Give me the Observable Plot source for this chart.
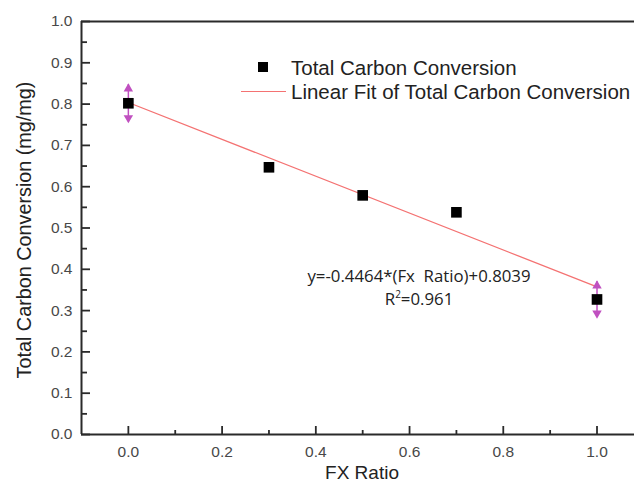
<!DOCTYPE html>
<html>
<head>
<meta charset="utf-8">
<script src="https://cdn.jsdelivr.net/npm/d3@7"></script>
<script src="https://cdn.jsdelivr.net/npm/@observablehq/plot@0.6"></script>
<style>
  html, body { margin: 0; padding: 0; background: #fff; }
  #wrap { position: relative; width: 634px; height: 487px; overflow: hidden; font-family: "Liberation Sans", Arial, sans-serif; }
  #wrap svg { display: block; }
  .lg { position: absolute; font-size: 20.5px; color: #222; white-space: nowrap; line-height: 1; transform: translateY(-50%); }
  .eq { position: absolute; font-family: "Open Sans", "DejaVu Sans", sans-serif; font-size: 16.8px; color: #222; white-space: nowrap; transform: translate(-50%, -50%); line-height: 1; }
</style>
</head>
<body>
<div id="wrap"></div>
<script>
// Data
const fxRatio = [0.0, 0.3, 0.5, 0.7, 1.0];
const carbonConv = [0.802, 0.647, 0.579, 0.538, 0.327];
const errX = [0.0, 1.0];
const errY = [0.802, 0.327];
const errVal = [0.045, 0.043];
const slope = -0.4464;
const intercept = 0.8039;
const fitX = [0.0, 1.0];
const xTicks = [0.0, 0.2, 0.4, 0.6, 0.8, 1.0];
const xMinor = [0.1, 0.3, 0.5, 0.7, 0.9];
const yTicks = [0.0, 0.1, 0.2, 0.3, 0.4, 0.5, 0.6, 0.7, 0.8, 0.9, 1.0];
const yMinor = [0.05, 0.15, 0.25, 0.35, 0.45, 0.55, 0.65, 0.75, 0.85, 0.95];
const xTitle = "FX Ratio";
const yTitle = "Total Carbon Conversion (mg/mg)";
const legendItems = ["Total Carbon Conversion", "Linear Fit of Total Carbon Conversion"];
const r2 = "0.961";

const points = fxRatio.map((x, i) => ({x, y: carbonConv[i]}));
const fit = fitX.map(x => ({x, y: slope * x + intercept}));
const errs = errX.map((x, i) => ({x, y: errY[i], lo: errY[i] - errVal[i], hi: errY[i] + errVal[i]}));

const axisColor = "#2a2a2a";
const labelColor = "#484848";
const fitColor = "#f47272";
const errColor = "#c050c0";

const chart = Plot.plot({
  width: 634,
  height: 487,
  marginLeft: 81,
  marginRight: 0,
  marginTop: 21,
  marginBottom: 53,
  style: {fontFamily: "'Liberation Sans', Arial, sans-serif", background: "#fff"},
  x: {domain: [-0.1, 1.08], label: null},
  y: {domain: [0, 1.0], label: null},
  marks: [
    // fit line
    Plot.line(fit, {x: "x", y: "y", stroke: fitColor, strokeWidth: 1.3}),
    // error bars
    Plot.ruleX(errs, {x: "x", y1: "lo", y2: "hi", stroke: errColor, strokeWidth: 1.5}),
    Plot.dot(errs, {x: "x", y: "hi", symbol: "triangle", r: 3.5, fill: errColor, stroke: null, dy: 4}),
    Plot.dot(errs, {x: "x", y: "lo", symbol: "triangle", r: 3.5, fill: errColor, stroke: null, rotate: 180, dy: -4}),
    // points
    Plot.dot(points, {x: "x", y: "y", symbol: "square", r: 6, fill: "#000", stroke: null}),
    // frame lines
    Plot.ruleX([-0.1], {stroke: axisColor, strokeWidth: 2}),
    Plot.ruleY([0], {stroke: axisColor, strokeWidth: 2}),
    Plot.ruleY([1.0], {stroke: axisColor, strokeWidth: 2}),
    // inward ticks (shifted inside the frame)
    Plot.axisY(yTicks, {anchor: "left", tickSize: 9, dx: 9, tickFormat: () => "", stroke: axisColor, strokeWidth: 1.8, label: null}),
    Plot.axisY(yMinor, {anchor: "left", tickSize: 6, dx: 6, tickFormat: () => "", stroke: axisColor, strokeWidth: 1.8, label: null}),
    Plot.axisX(xTicks, {anchor: "bottom", tickSize: 8, dy: -8, tickFormat: () => "", stroke: axisColor, strokeWidth: 1.8, label: null}),
    Plot.axisX(xMinor, {anchor: "bottom", tickSize: 4, dy: -4, tickFormat: () => "", stroke: axisColor, strokeWidth: 1.8, label: null}),
    // tick labels
    Plot.axisY(yTicks, {anchor: "left", tickSize: 0, tickPadding: 9, tickFormat: d3.format(".1f"), fontSize: 15.5, fill: labelColor, label: null}),
    Plot.axisX(xTicks, {anchor: "bottom", tickSize: 0, tickPadding: 11, tickFormat: d3.format(".1f"), fontSize: 15.5, fill: labelColor, label: null}),
    // axis titles
    Plot.text([xTitle], {frameAnchor: "bottom", dy: 44, dx: 4, text: d => d, fontSize: 19, fill: "#222", textAnchor: "middle"}),
    Plot.text([yTitle], {frameAnchor: "left", dx: -57, dy: 2, rotate: -90, text: d => d, fontSize: 19.8, fill: "#222", textAnchor: "middle"})
  ]
});

const wrap = document.getElementById("wrap");
wrap.appendChild(chart);

function addDiv(cls, html, left, top) {
  const d = document.createElement("div");
  d.className = cls;
  d.innerHTML = html;
  d.style.left = left + "px";
  d.style.top = top + "px";
  wrap.appendChild(d);
  return d;
}
// Legend (HTML overlay)
const sq = document.createElement("div");
Object.assign(sq.style, {position: "absolute", left: "258px", top: "62px", width: "10px", height: "10px", background: "#000"});
wrap.appendChild(sq);
const ln = document.createElement("div");
Object.assign(ln.style, {position: "absolute", left: "241px", top: "91px", width: "45px", height: "1.3px", background: fitColor});
wrap.appendChild(ln);
addDiv("lg", legendItems[0], 291, 68);
addDiv("lg", legendItems[1], 291, 92);
// Equation annotation
addDiv("eq", `y=-${Math.abs(slope).toFixed(4)}*(Fx&nbsp; Ratio)+${intercept.toFixed(4)}`, 419, 276);
addDiv("eq", `R<sup style='font-size:10px;vertical-align:7px'>2</sup>=${r2}`, 419, 298);
</script>
</body>
</html>
